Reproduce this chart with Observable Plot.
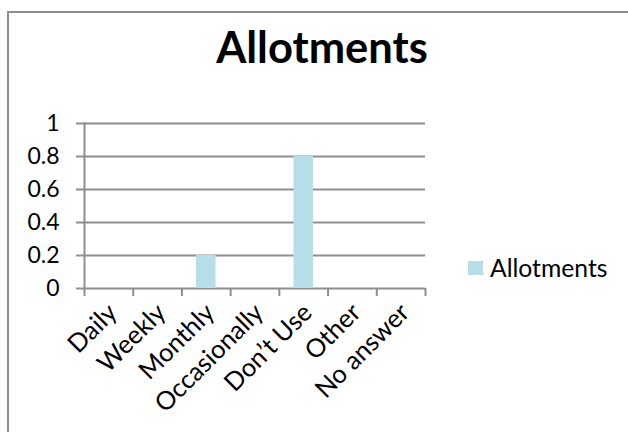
<!DOCTYPE html>
<html>
<head>
<meta charset="utf-8">
<script src="https://cdn.jsdelivr.net/npm/d3@7"></script>
<script src="https://cdn.jsdelivr.net/npm/@observablehq/plot@0.6"></script>
<style>
  html, body { margin: 0; padding: 0; background: #fff; }
  #wrap { position: relative; width: 628px; height: 432px; overflow: hidden; background: #fff; font-family: Lato, "Open Sans", sans-serif; }
  #border { position: absolute; left: 7px; top: 11px; width: 700px; height: 500px; border: 2px solid #8e8e8e; box-sizing: border-box; }
  #title { position: absolute; left: 0; width: 644px; top: 25px; text-align: center; font-weight: bold; font-size: 43.5px; line-height: 1; color: #000; }
  #chart { position: absolute; left: 0; top: 0; }
  #legend { position: absolute; left: 468px; top: 253px; display: flex; align-items: center; font-size: 24.7px; color: #000; }
  #legend .sw { width: 15px; height: 14px; margin-right: 7px; }
</style>
</head>
<body>
<div id="wrap">
  <div id="border"></div>
  <div id="title"></div>
  <div id="chart"></div>
  <div id="legend"></div>
</div>
<script>
const chartTitle = "Allotments";
const seriesName = "Allotments";
const categories = ["Daily", "Weekly", "Monthly", "Occasionally", "Don\u2019t Use", "Other", "No answer"];
const values = [0, 0, 0.2, 0, 0.8, 0, 0];
const yTicks = [0, 0.2, 0.4, 0.6, 0.8, 1];
const barColor = "#B7DDE8";
const lineColor = "#8e8e8e";

const data = categories.map((c, i) => ({cat: c, val: values[i]}));

document.getElementById("title").textContent = chartTitle;
const lg = document.getElementById("legend");
lg.innerHTML = `<div class="sw" style="background:${barColor}"></div><span>${seriesName}</span>`;

const W = 628, H = 432, mL = 84, mR = 203, mT = 123, mB = 144;
const step = (W - mL - mR) / categories.length;

const chart = Plot.plot({
  width: W, height: H,
  marginLeft: mL, marginRight: mR, marginTop: mT, marginBottom: mB,
  style: {fontFamily: "Lato, 'Open Sans', sans-serif", fontSize: "23px", color: "#000", background: "transparent", overflow: "visible"},
  x: {domain: categories, paddingInner: 0.6, paddingOuter: 0.3, round: false, label: null},
  y: {domain: [0, 1], label: null},
  marks: [
    Plot.gridY(yTicks, {stroke: lineColor, strokeOpacity: 1, strokeWidth: 2}),
    Plot.barY(data, {x: "cat", y: "val", fill: barColor}),
    Plot.frame({anchor: "left", stroke: lineColor, strokeWidth: 2}),
    Plot.axisY({ticks: yTicks, tickSize: 8, tickPadding: 17, stroke: lineColor, strokeWidth: 2, strokeOpacity: 1, tickFormat: d => String(d), fill: "#000"}),
    Plot.axisX({tickSize: 8, fill: "none", stroke: lineColor, strokeWidth: 2, strokeOpacity: 1, dx: -step / 2}),
    Plot.axisX([categories[categories.length - 1]], {tickSize: 8, fill: "none", stroke: lineColor, strokeWidth: 2, strokeOpacity: 1, dx: step / 2}),
    Plot.axisX({tickSize: 0, tickPadding: 20, tickRotate: -45, fill: "#000", fontSize: 25.5, dx: 4})
  ]
});
document.getElementById("chart").appendChild(chart);
</script>
</body>
</html>
